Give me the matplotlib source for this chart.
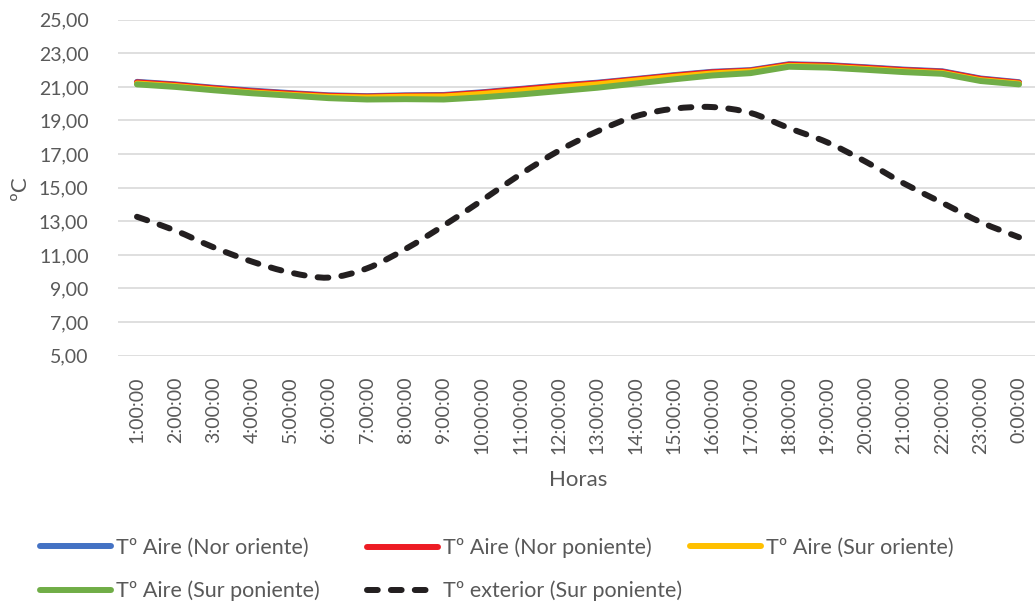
import matplotlib
matplotlib.use("Agg")
import matplotlib.pyplot as plt
import numpy as np
from matplotlib.path import Path
from matplotlib.patches import PathPatch
from matplotlib.lines import Line2D

plt.rcParams['font.family'] = ['Lato', 'DejaVu Sans']

horas = ["1:00:00", "2:00:00", "3:00:00", "4:00:00", "5:00:00", "6:00:00",
         "7:00:00", "8:00:00", "9:00:00", "10:00:00", "11:00:00", "12:00:00",
         "13:00:00", "14:00:00", "15:00:00", "16:00:00", "17:00:00", "18:00:00",
         "19:00:00", "20:00:00", "21:00:00", "22:00:00", "23:00:00", "0:00:00"]

nor_oriente = [21.30, 21.15, 20.95, 20.78, 20.63, 20.50, 20.45, 20.50, 20.52, 20.68,
               20.88, 21.08, 21.25, 21.47, 21.70, 21.90, 22.00, 22.35, 22.30, 22.17,
               22.03, 21.93, 21.50, 21.28]
nor_poniente = [21.27, 21.12, 20.92, 20.74, 20.60, 20.47, 20.42, 20.47, 20.49, 20.65,
                20.85, 21.05, 21.22, 21.44, 21.67, 21.87, 21.97, 22.32, 22.27, 22.14,
                22.00, 21.90, 21.47, 21.25]
sur_oriente = [21.20, 21.05, 20.85, 20.67, 20.53, 20.41, 20.37, 20.42, 20.43, 20.58,
               20.77, 20.97, 21.15, 21.38, 21.60, 21.80, 21.92, 22.25, 22.20, 22.07,
               21.93, 21.83, 21.40, 21.20]
sur_poniente = [21.15, 21.00, 20.80, 20.62, 20.48, 20.33, 20.25, 20.27, 20.25, 20.38,
                20.55, 20.75, 20.95, 21.20, 21.45, 21.68, 21.82, 22.20, 22.15, 22.02,
                21.88, 21.78, 21.35, 21.15]
exterior = [13.27, 12.45, 11.45, 10.60, 9.95, 9.65, 10.20, 11.35, 12.75, 14.25,
            15.80, 17.20, 18.35, 19.25, 19.70, 19.80, 19.45, 18.55, 17.70, 16.55,
            15.25, 14.10, 12.95, 12.05]

series_labels = ["Tº Aire (Nor oriente)", "Tº Aire (Nor poniente)", "Tº Aire (Sur oriente)",
                 "Tº Aire (Sur poniente)", "Tº exterior (Sur poniente)"]
y_ticks = [5, 7, 9, 11, 13, 15, 17, 19, 21, 23, 25]

C_BLUE, C_RED, C_YEL, C_GRN, C_BLK = "#4472C4", "#ED1C24", "#FFC000", "#70AD47", "#231F20"
TXT = "#595959"
LW = 4.3
DASH = (0, (1.8, 2.2))


def smooth_path(xs, ys):
    """Cubic Bezier path through the points (Catmull-Rom style tangents)."""
    pts = np.column_stack([xs, ys]).astype(float)
    n = len(pts)
    verts = [pts[0]]
    codes = [Path.MOVETO]
    for i in range(n - 1):
        p0 = pts[i - 1] if i > 0 else pts[i]
        p1, p2 = pts[i], pts[i + 1]
        p3 = pts[i + 2] if i + 2 < n else pts[i + 1]
        c1 = p1 + (p2 - p0) / 6.0
        c2 = p2 - (p3 - p1) / 6.0
        verts += [c1, c2, p2]
        codes += [Path.CURVE4] * 3
    return Path(verts, codes)


W, H = 1035, 606
fig = plt.figure(figsize=(W / 100, H / 100), dpi=100)
ax = fig.add_axes([117.8 / W, 1 - 355.7 / H, 920.4 / W, 336.0 / H])

x = np.arange(len(horas))
for vals, col in [(nor_oriente, C_BLUE), (nor_poniente, C_RED),
                  (sur_oriente, C_YEL), (sur_poniente, C_GRN)]:
    ax.plot(x, vals, color=col, lw=LW, solid_capstyle='round',
            solid_joinstyle='round', zorder=3)

ext_patch = PathPatch(smooth_path(x, exterior), fill=False, edgecolor=C_BLK,
                      lw=LW, linestyle=DASH, capstyle='round', zorder=4)
ax.add_patch(ext_patch)

ax.set_xlim(-0.5, len(horas) - 0.5)
ax.set_ylim(5, 25)
ax.set_yticks(y_ticks)
ax.set_yticklabels([f"{v:.2f}".replace('.', ',') for v in y_ticks])
ax.set_xticks(x)
ax.set_xticklabels(horas, rotation=90)
ax.tick_params(axis='both', length=0, labelsize=14, labelcolor=TXT)
ax.tick_params(axis='y', pad=21)
ax.tick_params(axis='x', pad=15)
ax.grid(axis='y', color='#D9D9D9', lw=1.2, zorder=0)
for s in ax.spines.values():
    s.set_visible(False)

fig.text(578 / W, 1 - 480 / H, "Horas", ha='center', va='center', fontsize=16, color=TXT)
fig.text(20 / W, 1 - 188 / H, "ºC", ha='center', va='center', fontsize=16,
         color=TXT, rotation=90)

handles = [
    Line2D([], [], color=C_BLUE, lw=LW, solid_capstyle='round'),
    Line2D([], [], color=C_RED, lw=LW, solid_capstyle='round'),
    Line2D([], [], color=C_YEL, lw=LW, solid_capstyle='round'),
    Line2D([], [], color=C_GRN, lw=LW, solid_capstyle='round'),
    Line2D([], [], color=C_BLK, lw=LW, linestyle=DASH, dash_capstyle='round'),
]
positions = [(40, 548), (367, 548), (690, 548), (40, 591), (367, 591)]
for h, lab, (px, py) in zip(handles, series_labels, positions):
    fig.legend(handles=[h], labels=[lab], loc='center left',
               bbox_to_anchor=(px / W, 1 - py / H), frameon=False,
               borderpad=0, borderaxespad=0, handlelength=3.3,
               handletextpad=0.25, fontsize=15.5, labelcolor=TXT)

fig.savefig("out.png", dpi=100, facecolor='white')
